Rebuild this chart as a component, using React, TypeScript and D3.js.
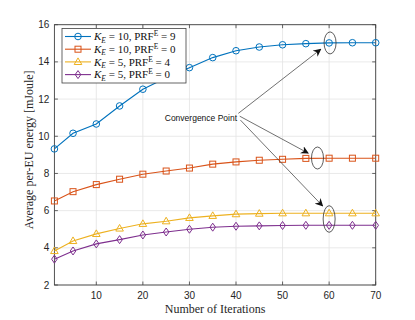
import React, { useEffect, useRef } from 'react';
import * as d3 from 'd3';

// iteration counts shared by all four curves
const iterations = [1, 5, 10, 15, 20, 25, 30, 35, 40, 45, 50, 55, 60, 65, 70];

const energyK10P9 = [9.32, 10.16, 10.66, 11.63, 12.53, 13.15, 13.69, 14.23, 14.6, 14.8, 14.92, 14.98, 15.02, 15.03, 15.03];
const energyK10P0 = [6.52, 7.02, 7.4, 7.69, 7.96, 8.13, 8.29, 8.5, 8.62, 8.71, 8.76, 8.81, 8.82, 8.82, 8.82];
const energyK5P4 = [3.83, 4.37, 4.75, 5.04, 5.29, 5.43, 5.61, 5.72, 5.81, 5.84, 5.86, 5.86, 5.86, 5.86, 5.86];
const energyK5P0 = [3.39, 3.83, 4.21, 4.44, 4.69, 4.85, 5.0, 5.11, 5.16, 5.18, 5.2, 5.21, 5.21, 5.21, 5.21];

const kValues = ['10', '10', '5', '5'];
const prfValues = ['9', '0', '4', '0'];

const xTicks = [10, 20, 30, 40, 50, 60, 70];
const yTicks = [2, 4, 6, 8, 10, 12, 14, 16];

// annotation: label anchor, arrow starts/ends and ellipses in data units
const noteLabel = { x: 24.7, y: 10.98, text: 'Convergence Point' };
const arrowStarts = [[40.5, 11.23], [40.8, 11.08], [40.95, 10.87]];
const arrowEnds = [[58.2, 14.68], [55.5, 9.09], [58.6, 6.25]];
const ellipses = [[60.2, 15.02, 11], [57.5, 8.83, 11], [60, 5.55, 13.3]];

const colors = ['#0072BD', '#D95319', '#EDB120', '#7E2F8E'];
const markers = ['circle', 'square', 'triangle', 'diamond'];

const App = () => {
  const ref = useRef<SVGSVGElement>(null);

  useEffect(() => {
    const svg = d3.select(ref.current);
    svg.selectAll('*').remove();

    const width = 415;
    const height = 320;
    const margin = { top: 24.7, right: 39.3, bottom: 35, left: 54.4 };
    const innerW = width - margin.left - margin.right;
    const innerH = height - margin.top - margin.bottom;

    const x = d3.scaleLinear().domain([1, 70]).range([margin.left, margin.left + innerW]);
    const y = d3.scaleLinear().domain([2, 16]).range([margin.top + innerH, margin.top]);

    svg.append('rect').attr('width', width).attr('height', height).attr('fill', 'white');

    const series = [energyK10P9, energyK10P0, energyK5P4, energyK5P0];

    // grid
    const grid = svg.append('g').attr('stroke', '#e3e3e3').attr('stroke-width', 0.8);
    grid.selectAll('.gx').data(xTicks).enter().append('line')
      .attr('x1', (d) => x(d)).attr('x2', (d) => x(d))
      .attr('y1', margin.top).attr('y2', margin.top + innerH);
    grid.selectAll('.gy').data(yTicks).enter().append('line')
      .attr('y1', (d) => y(d)).attr('y2', (d) => y(d))
      .attr('x1', margin.left).attr('x2', margin.left + innerW);

    // ticks (inside, all four sides)
    const ticks = svg.append('g').attr('stroke', '#404040').attr('stroke-width', 0.8);
    xTicks.forEach((t) => {
      ticks.append('line').attr('x1', x(t)).attr('x2', x(t)).attr('y1', y(2)).attr('y2', y(2) - 3.5);
      ticks.append('line').attr('x1', x(t)).attr('x2', x(t)).attr('y1', y(16)).attr('y2', y(16) + 3.5);
    });
    yTicks.forEach((t) => {
      ticks.append('line').attr('y1', y(t)).attr('y2', y(t)).attr('x1', x(1)).attr('x2', x(1) + 3.5);
      ticks.append('line').attr('y1', y(t)).attr('y2', y(t)).attr('x1', x(70)).attr('x2', x(70) - 3.5);
    });

    svg.append('rect')
      .attr('x', margin.left).attr('y', margin.top)
      .attr('width', innerW).attr('height', innerH)
      .attr('fill', 'none').attr('stroke', '#404040').attr('stroke-width', 0.9);

    const tickFont = 'Liberation Sans, Arial, sans-serif';
    svg.append('g').selectAll('text').data(xTicks).enter().append('text')
      .attr('x', (d) => x(d)).attr('y', y(2) + 14)
      .attr('text-anchor', 'middle').attr('font-family', tickFont).attr('font-size', 10)
      .attr('fill', '#262626').text((d) => d);
    svg.append('g').selectAll('text').data(yTicks).enter().append('text')
      .attr('x', margin.left - 5).attr('y', (d) => y(d)).attr('dy', '0.35em')
      .attr('text-anchor', 'end').attr('font-family', tickFont).attr('font-size', 10)
      .attr('fill', '#262626').text((d) => d);

    const serif = 'Liberation Serif, Times New Roman, serif';
    svg.append('text')
      .attr('x', margin.left + innerW / 2).attr('y', 313)
      .attr('text-anchor', 'middle').attr('font-family', serif).attr('font-size', 12)
      .attr('fill', '#262626').text('Number of Iterations');
    svg.append('text')
      .attr('transform', `translate(33,${margin.top + innerH / 2 - 5}) rotate(-90)`)
      .attr('text-anchor', 'middle').attr('font-family', serif).attr('font-size', 12)
      .attr('fill', '#262626').text('Average per-EU energy [mJoule]');

    const drawMarker = (g: any, kind: string, cx: number, cy: number, color: string) => {
      if (kind === 'circle') {
        g.append('circle').attr('cx', cx).attr('cy', cy).attr('r', 3.3)
          .attr('fill', 'none').attr('stroke', color).attr('stroke-width', 1);
      } else if (kind === 'square') {
        g.append('rect').attr('x', cx - 3).attr('y', cy - 3).attr('width', 6).attr('height', 6)
          .attr('fill', 'none').attr('stroke', color).attr('stroke-width', 1);
      } else if (kind === 'triangle') {
        g.append('path').attr('d', `M${cx},${cy - 4}L${cx + 3.8},${cy + 2.6}L${cx - 3.8},${cy + 2.6}Z`)
          .attr('fill', 'none').attr('stroke', color).attr('stroke-width', 1);
      } else {
        g.append('path').attr('d', `M${cx},${cy - 4}L${cx + 2.8},${cy}L${cx},${cy + 4}L${cx - 2.8},${cy}Z`)
          .attr('fill', 'none').attr('stroke', color).attr('stroke-width', 1);
      }
    };

    const line = d3.line<number>().x((_, i) => x(iterations[i])).y((d) => y(d));

    series.forEach((vals, si) => {
      const g = svg.append('g');
      g.append('path').attr('d', line(vals)).attr('fill', 'none')
        .attr('stroke', colors[si]).attr('stroke-width', 1.1);
      vals.forEach((v, i) => drawMarker(g, markers[si], x(iterations[i]), y(v), colors[si]));
    });

    // annotation
    svg.append('defs').append('marker')
      .attr('id', 'arrowhead').attr('viewBox', '0 0 10 10')
      .attr('refX', 9).attr('refY', 5).attr('markerWidth', 8).attr('markerHeight', 8)
      .attr('markerUnits', 'userSpaceOnUse').attr('orient', 'auto')
      .append('path').attr('d', 'M0,0L10,5L0,10L3,5Z').attr('fill', '#111');

    const note = svg.append('g');
    arrowStarts.forEach((s, i) => {
      note.append('line')
        .attr('x1', x(s[0])).attr('y1', y(s[1]))
        .attr('x2', x(arrowEnds[i][0])).attr('y2', y(arrowEnds[i][1]))
        .attr('stroke', '#333').attr('stroke-width', 0.7)
        .attr('marker-end', 'url(#arrowhead)');
    });
    ellipses.forEach((e) => {
      note.append('ellipse')
        .attr('cx', x(e[0])).attr('cy', y(e[1])).attr('rx', 6).attr('ry', e[2])
        .attr('fill', 'none').attr('stroke', '#333').attr('stroke-width', 0.8);
    });
    note.append('text')
      .attr('x', x(noteLabel.x)).attr('y', y(noteLabel.y)).attr('dy', '0.35em')
      .attr('font-family', tickFont).attr('font-size', 8.5).attr('fill', '#111')
      .text(noteLabel.text);

    // legend
    const legend = svg.append('g');
    legend.append('rect')
      .attr('x', 62).attr('y', 28.5).attr('width', 124).attr('height', 54.5)
      .attr('fill', 'white').attr('stroke', '#404040').attr('stroke-width', 0.8);
    kValues.forEach((k, i) => {
      const ly = 36.5 + i * 12.7;
      legend.append('line').attr('x1', 65).attr('x2', 91).attr('y1', ly).attr('y2', ly)
        .attr('stroke', colors[i]).attr('stroke-width', 1.1);
      drawMarker(legend, markers[i], 78, ly, colors[i]);
      const t = legend.append('text')
        .attr('x', 94).attr('y', ly).attr('dy', '0.33em')
        .attr('font-family', serif).attr('font-size', 11).attr('fill', '#111');
      t.append('tspan').attr('font-style', 'italic').text('K');
      t.append('tspan').attr('font-style', 'italic').attr('font-size', 7.5).attr('dy', 2.5).text('E');
      t.append('tspan').attr('dy', -2.5).text(` = ${k}, PRF`);
      t.append('tspan').attr('font-size', 7.5).attr('dy', -4).text('E');
      t.append('tspan').attr('dy', 4).text(` = ${prfValues[i]}`);
    });
  }, []);

  return (
    <svg ref={ref} width={415} height={320}
      style={{ display: 'block', position: 'absolute', left: 0, top: 0 }} />
  );
};

export default App;
